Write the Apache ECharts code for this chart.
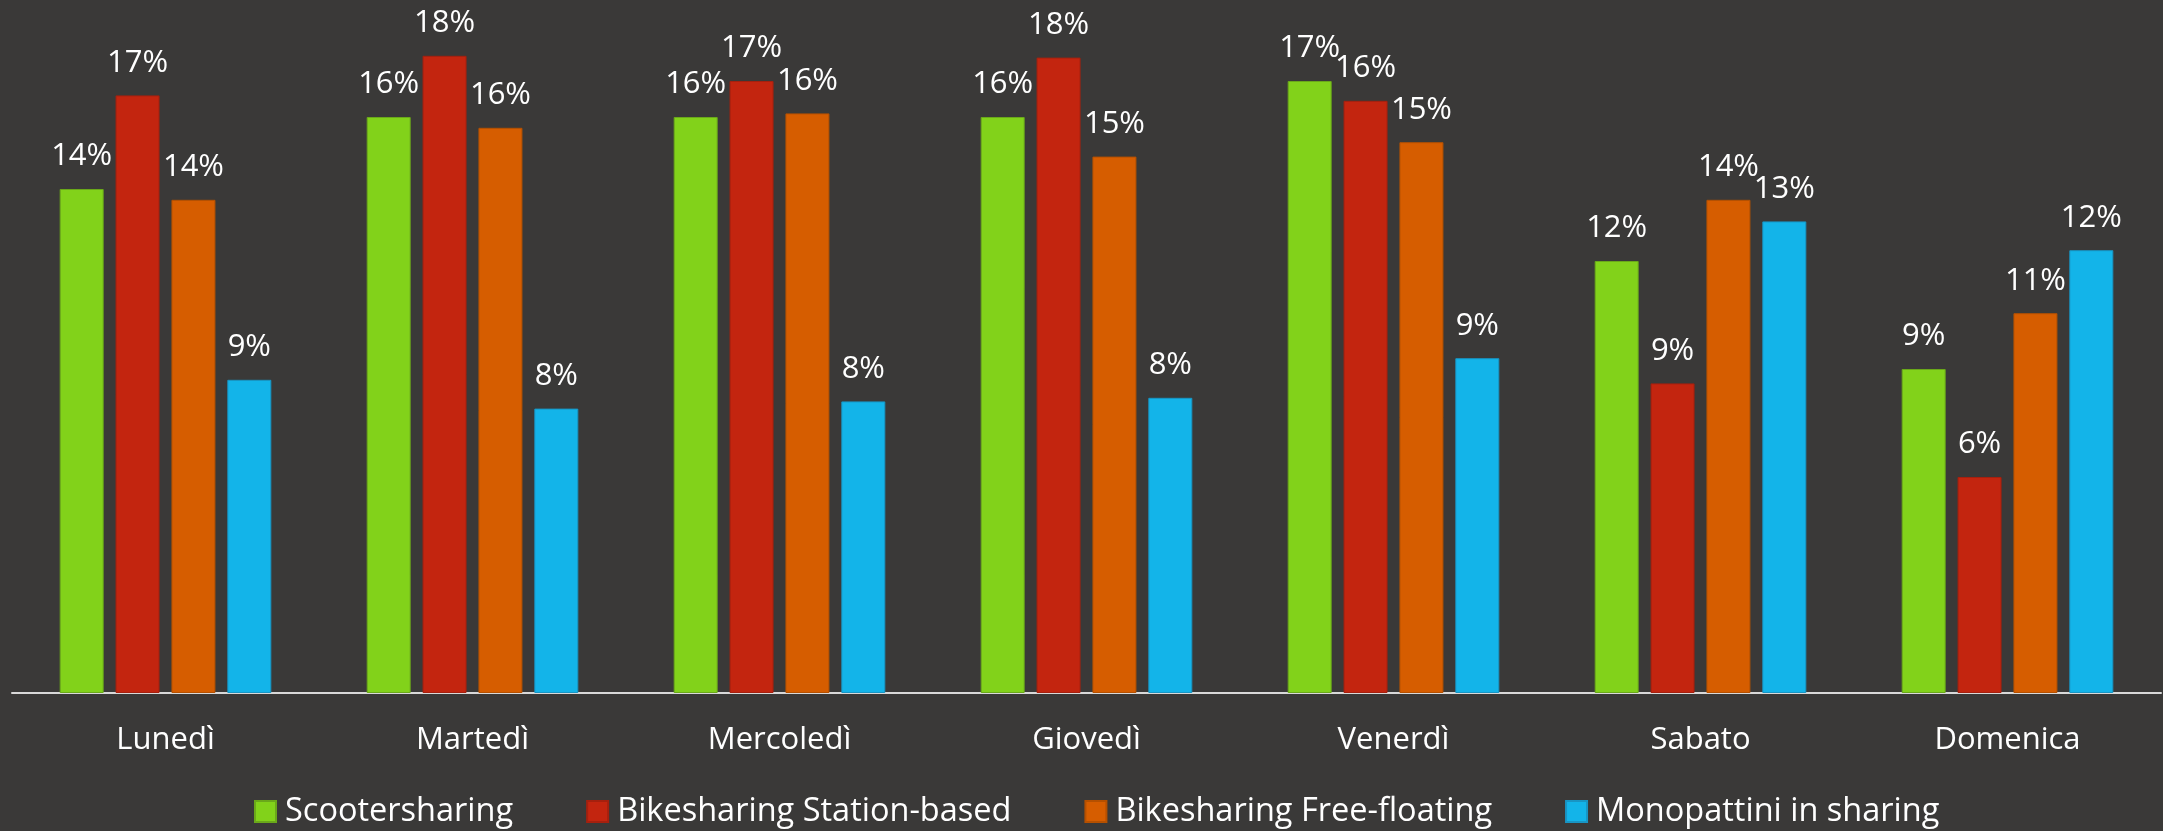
<!DOCTYPE html>
<html>
<head>
<meta charset="utf-8">
<style>
  html, body { margin: 0; padding: 0; background: #3a3938; }
  #chart { width: 2163px; height: 831px; }
</style>
<script src="https://cdn.jsdelivr.net/npm/echarts@6/dist/echarts.min.js"></script>
</head>
<body>
<div id="chart"></div>
<script>
// Weekly share of trips by sharing service (%)
const days = ['Lunedì', 'Martedì', 'Mercoledì', 'Giovedì', 'Venerdì', 'Sabato', 'Domenica'];
const seriesNames = ['Scootersharing', 'Bikesharing Station-based', 'Bikesharing Free-floating', 'Monopattini in sharing'];
const scootersharing = [14.0, 16.0, 16.0, 16.0, 17.0, 12.0, 9.0];
const bikeStationBased = [16.6, 17.7, 17.0, 17.65, 16.45, 8.6, 6.0];
const bikeFreeFloating = [13.7, 15.7, 16.1, 14.9, 15.3, 13.7, 10.55];
const monopattini = [8.7, 7.9, 8.1, 8.2, 9.3, 13.1, 12.3];

const colors = ['#82d21a', '#c3250f', '#d65d00', '#13b4e9'];
const borders = ['#6aa81a', '#a5200e', '#b55000', '#1895c4'];
const values = [scootersharing, bikeStationBased, bikeFreeFloating, monopattini];

const FONT = '"Open Sans", "Noto Sans", sans-serif';

const chart = echarts.init(document.getElementById('chart'), null, { renderer: 'canvas' });

chart.setOption({
  backgroundColor: '#3a3938',
  animation: false,
  grid: { left: 12, right: 2, top: 9, bottom: 138, containLabel: false },
  legend: {
    data: seriesNames,
    top: 795,
    left: 254,
    padding: 0,
    itemGap: 73,
    itemWidth: 21,
    itemHeight: 21,
    icon: 'rect',
    textStyle: { color: '#ffffff', fontSize: 32.5, fontFamily: FONT, padding: [0, 0, 0, 4] }
  },
  xAxis: {
    type: 'category',
    data: days,
    axisLine: { show: true, lineStyle: { color: '#d9d9d9', width: 2 } },
    axisTick: { show: false },
    axisLabel: { color: '#ffffff', fontSize: 31, fontFamily: FONT, margin: 32, interval: 0 }
  },
  yAxis: {
    type: 'value',
    min: 0,
    max: 19,
    show: false,
    splitLine: { show: false }
  },
  series: seriesNames.map((name, i) => ({
    name: name,
    type: 'bar',
    data: values[i],
    barWidth: 44,
    barGap: '27%',
    itemStyle: { color: colors[i], borderColor: borders[i], borderWidth: 1 },
    label: {
      show: true,
      position: 'top',
      distance: 17,
      color: '#ffffff',
      fontSize: 31,
      fontFamily: FONT,
      formatter: p => Math.round(p.value) + '%'
    }
  }))
});
</script>
</body>
</html>
